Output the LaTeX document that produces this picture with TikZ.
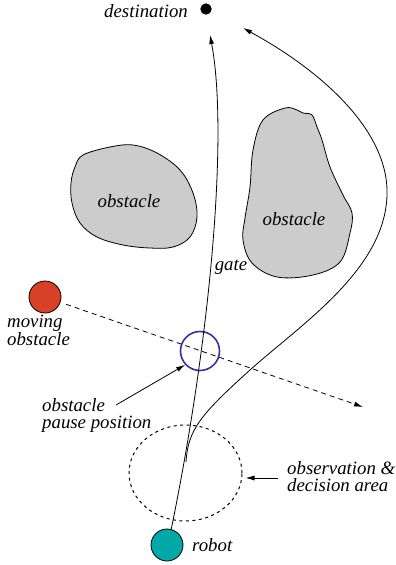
\documentclass[tikz,border=0pt]{standalone}
\usepackage{fontspec}
\setmainfont{Liberation Serif}
\usetikzlibrary{arrows.meta,positioning,shapes.geometric}

\definecolor{obstgray}{HTML}{CCCCCC}
\definecolor{moverred}{HTML}{D84027}
\definecolor{robotteal}{HTML}{00A8A8}
\definecolor{pauseblue}{HTML}{3B2F99}

\begin{document}
\begin{tikzpicture}
  [
  x=1pt, y=-1pt,
  txt/.style={font=\fontsize{18.8}{17}\selectfont\itshape, inner sep=0pt, align=left},
  blob/.style={draw, fill=obstgray, line width=0.8pt},
  path/.style={draw, line width=0.8pt, -{Latex[length=9pt,width=5pt]}},
  dot/.style={circle, draw, line width=0.8pt, inner sep=0pt}
  ]
  \useasboundingbox (0,0) rectangle (396,565);

  % obstacles
  \draw[blob] plot[smooth cycle, tension=0.6] coordinates {(83,155) (110,147) (133,145)
    (157,153) (180,170) (193,193) (197,217) (190,237) (173,247) (150,248) (123,245)
    (97,237) (80,223) (72,203) (71,183) (75,167)};
  \draw[blob] plot[smooth cycle, tension=0.6] coordinates {(285,108) (297,110) (303,113)
    (312,115) (317,127) (322,140) (330,167) (343,195) (352,213) (350,233) (340,262)
    (313,275) (277,277) (252,263) (243,240) (245,218) (250,187) (253,150) (263,120)};
  \node[txt] (obs1) at (129,201) {obstacle};
  \node[txt] (obs2) at (294,219) {obstacle};
  \node[txt] (gate) at (231,267) {gate};

  % agents
  \node[dot, fill=black, minimum size=10.5pt] (dest) at (206,9) {};
  \node[txt, anchor=east] (destlbl) at (188,11) {destination};
  \node[dot, fill=robotteal, minimum size=32pt] (robot) at (167,545) {};
  \node[txt, anchor=west] (robotlbl) at (192,545) {robot};
  \node[dot, fill=moverred, minimum size=32pt] (mover) at (45,297) {};
  \node[txt, anchor=north west] (moverlbl) at (7,315) {moving\\obstacle};
  \node[dot, draw=pauseblue, line width=1.6pt, minimum size=39pt] (pause) at (200,351) {};
  \node[txt, anchor=north west] (pauselbl) at (42,398) {obstacle\\pause position};
  \node[ellipse, draw, line width=1pt, dash pattern=on 3pt off 3.5pt,
    minimum width=113pt, minimum height=96pt, inner sep=0pt] (area) at (185.5,473) {};
  \node[txt, anchor=north west] (arealbl) at (287,461) {observation \&\\decision area};

  \coordinate (g1) at (210,35);
  \coordinate (g2) at (243,28);
  \coordinate (g3) at (363,407);
  \coordinate (s2) at (186,462);
  \coordinate (t4) at (116,405);
  \coordinate (t5) at (278,478);

  % paths
  \draw[path] (robot.75) .. controls (212,330) and (228,130) .. (g1);
  \draw[path] (s2) .. controls (188,430) and (200,415) .. (250,370)
    .. controls (300,325) and (385,270) .. (387,195)
    .. controls (389,130) and (320,70) .. (g2);
  \draw[path, dash pattern=on 5pt off 4pt, shorten <=6pt] (mover) -- (g3);
  \draw[path] (t4) -- (pause.223);
  \draw[path, shorten >=3pt] (t5) -- (t5 -| area.east);
\end{tikzpicture}
\end{document}
